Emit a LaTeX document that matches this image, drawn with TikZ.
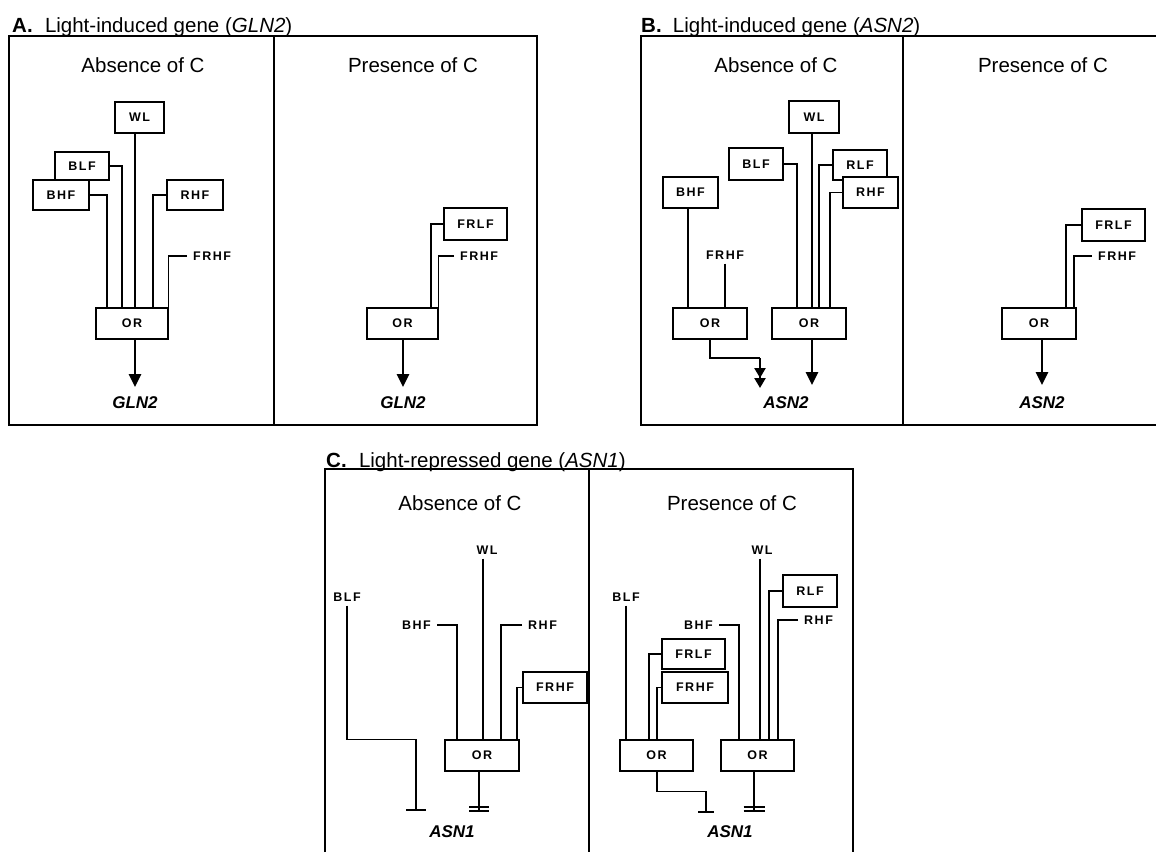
\documentclass[tikz,border=0pt]{standalone}
\usepackage{fontspec}
\setmainfont{Liberation Sans}
\newfontfamily\labfont[LetterSpace=12]{Liberation Sans}
\usetikzlibrary{arrows.meta}
\begin{document}
\begin{tikzpicture}[x=1pt,y=-1pt,
  ttl/.style={font=\fontsize{20.5}{24}\selectfont, inner sep=0pt, anchor=base west},
  hdr/.style={font=\fontsize{20.5}{24}\selectfont, inner sep=0pt, anchor=base},
  fbox/.style={draw, line width=1.3pt, fill=white, inner sep=0pt, font=\labfont\bfseries\fontsize{12.5}{14}\selectfont},
  lbl/.style={inner xsep=6pt, inner ysep=4pt, font=\labfont\bfseries\fontsize{12.5}{14}\selectfont},
  gene/.style={font=\bfseries\itshape\fontsize{17}{20}\selectfont, inner sep=0pt, anchor=base},
  panel/.style={line width=1.3pt},
  conn/.style={line width=1.2pt},
  arr/.style={line width=2.6pt, -{Triangle[width=12pt,length=13pt]}},
]
\useasboundingbox (0,0) rectangle (1156,852);
% panel frames
\draw[panel] (9,36) rectangle (537,425);
\draw[panel] (274,36) -- (274,425);
\draw[panel] (1156,36) -- (641,36) -- (641,425) -- (1156,425);
\draw[panel] (903,36) -- (903,425);
\draw[panel] (325,852) -- (325,469) -- (853,469) -- (853,852);
\draw[panel] (589,469) -- (589,852);
% titles
\node[ttl] (tA) at (12,32) {\textbf{A.}\hspace{0.6em}Light-induced gene (\textit{GLN2})};
\node[ttl] (tB) at (641,32) {\textbf{B.}\hspace{0.55em}Light-induced gene (\textit{ASN2})};
\node[ttl] (tC) at (326,467) {\textbf{C.}\hspace{0.6em}Light-repressed gene (\textit{ASN1})};
\node[hdr] (hA1) at (143,72) {Absence of C};
\node[hdr] (hA2) at (413,72) {Presence of C};
\node[hdr] (hB1) at (776,72) {Absence of C};
\node[hdr] (hB2) at (1043,72) {Presence of C};
\node[hdr] (hC1) at (460,510) {Absence of C};
\node[hdr] (hC2) at (732,510) {Presence of C};

% ---------- Panel A, absence
\node[fbox, minimum width=49pt, minimum height=31pt] (aWL) at (139.5,117.5) {WL};
\node[fbox, minimum width=54pt, minimum height=28pt] (aBLF) at (82,166) {BLF};
\node[fbox, minimum width=56pt, minimum height=30pt] (aBHF) at (61,195) {BHF};
\node[fbox, minimum width=56pt, minimum height=30pt] (aRHF) at (195,195) {RHF};
\node[lbl, anchor=west] (aFRHF) at (187,256) {FRHF};
\node[fbox, minimum width=72pt, minimum height=31pt] (aOR) at (132,323.5) {OR};
\coordinate (aI1) at (107,308);
\coordinate (aI2) at (122,308);
\coordinate (aI3) at (135,308);
\coordinate (aI4) at (153,308);
\coordinate (aT) at (135,387);
\draw[conn] (aBHF.east) -| (aI1);
\draw[conn] (aBLF.east) -| (aI2);
\draw[conn] (aWL.south -| aI3) -- (aI3);
\draw[conn] (aRHF.west) -| (aI4);
\draw[conn] (aFRHF.west) -| (aOR.north east);
\draw[arr] (aOR.south -| aT) -- (aT);
\node[gene] (aG1) at (135,408) {GLN2};

% ---------- Panel A, presence
\node[fbox, minimum width=71pt, minimum height=31pt] (aOR2) at (402.5,323.5) {OR};
\node[fbox, minimum width=63pt, minimum height=32pt] (aFRLF) at (475.5,224) {FRLF};
\node[lbl, anchor=west] (aFRHF2) at (454,256) {FRHF};
\coordinate (aJ1) at (431,308);
\coordinate (aT2) at (403,387);
\draw[conn] (aFRLF.west) -| (aJ1);
\draw[conn] (aFRHF2.west) -| (aOR2.north east);
\draw[arr] (aOR2.south -| aT2) -- (aT2);
\node[gene] (aG2) at (403,408) {GLN2};

% ---------- Panel B, absence
\node[fbox, minimum width=50pt, minimum height=32pt] (bWL) at (814,117) {WL};
\node[fbox, minimum width=54pt, minimum height=32pt] (bBLF) at (756,164) {BLF};
\node[fbox, minimum width=54pt, minimum height=30pt] (bRLF) at (860,165) {RLF};
\node[fbox, minimum width=55pt, minimum height=31pt] (bRHF) at (870.5,192.5) {RHF};
\node[fbox, minimum width=55pt, minimum height=31pt] (bBHF) at (690.5,192.5) {BHF};
\node[lbl] (bFRHF) at (725,255) {FRHF};
\node[fbox, minimum width=74pt, minimum height=31pt] (bOR1) at (710,323.5) {OR};
\node[fbox, minimum width=74pt, minimum height=31pt] (bOR2) at (809,323.5) {OR};
\coordinate (bI1) at (688,308);
\coordinate (bI2) at (725,308);
\coordinate (bJ1) at (797,308);
\coordinate (bJ2) at (812,308);
\coordinate (bJ3) at (819,308);
\coordinate (bJ4) at (830,308);
\coordinate (bK) at (760,358);
\coordinate (bT1) at (760,388);
\coordinate (bT2) at (812,385);
\draw[conn] (bBHF.south -| bI1) -- (bI1);
\draw[conn] (bFRHF.south) -- (bI2);
\draw[conn] (bBLF.east) -| (bJ1);
\draw[conn] (bWL.south -| bJ2) -- (bJ2);
\draw[conn] (bRLF.west) -| (bJ3);
\draw[conn] (bRHF.west) -| (bJ4);
\draw[conn] (bOR1.south) |- (bK);
\draw[line width=2.4pt, -{Triangle[width=11pt,length=10pt]Triangle[width=11pt,length=10pt]}] (bK) -- (bT1);
\draw[arr] (bOR2.south -| bT2) -- (bT2);
\node[gene] (bG1) at (786,408) {ASN2};

% ---------- Panel B, presence
\node[fbox, minimum width=74pt, minimum height=31pt] (bOR3) at (1039,323.5) {OR};
\node[fbox, minimum width=63pt, minimum height=32pt] (bFRLF) at (1113.5,225) {FRLF};
\node[lbl, anchor=west] (bFRHF2) at (1092,256) {FRHF};
\coordinate (bL1) at (1066,308);
\coordinate (bL2) at (1074,308);
\coordinate (bT3) at (1042,385);
\draw[conn] (bFRLF.west) -| (bL1);
\draw[conn] (bFRHF2.west) -| (bL2);
\draw[arr] (bOR3.south -| bT3) -- (bT3);
\node[gene] (bG2) at (1042,408) {ASN2};

% ---------- Panel C, absence
\node[lbl] (cWL) at (487,550) {WL};
\node[lbl] (cBLF) at (347,597) {BLF};
\node[lbl, anchor=east] (cBHF) at (437,625) {BHF};
\node[lbl, anchor=west] (cRHF) at (522,625) {RHF};
\node[fbox, minimum width=64pt, minimum height=31pt] (cFRHF) at (555,687.5) {FRHF};
\node[fbox, minimum width=74pt, minimum height=31pt] (cOR) at (482,755.5) {OR};
\coordinate (cI1) at (457,740);
\coordinate (cI2) at (483,740);
\coordinate (cI3) at (501,740);
\coordinate (cI4) at (517,740);
\coordinate (cBar1) at (416,810);
\coordinate (cBar2) at (479,811);
\draw[conn] (cBLF.south) |- (cBar1 |- cOR.north) -- (cBar1);
\draw[conn] ([xshift=-10pt]cBar1) -- ([xshift=10pt]cBar1);
\draw[conn] (cBHF.east) -| (cI1);
\draw[conn] (cWL.south -| cI2) -- (cI2);
\draw[conn] (cRHF.west) -| (cI3);
\draw[conn] (cFRHF.west) -| (cI4);
\draw[conn] (cOR.south -| cBar2) -- (cBar2);
\draw[conn] ([xshift=-10pt,yshift=4pt]cBar2) -- ([xshift=10pt,yshift=4pt]cBar2);
\draw[conn] ([xshift=-10pt]cBar2) -- ([xshift=10pt]cBar2);
\node[gene] (cG1) at (452,837) {ASN1};

% ---------- Panel C, presence
\node[lbl] (cWL2) at (762,550) {WL};
\node[fbox, minimum width=54pt, minimum height=32pt] (cRLF) at (810,591) {RLF};
\node[lbl, anchor=west] (cRHF2) at (798,620) {RHF};
\node[lbl, anchor=east] (cBHF2) at (719,625) {BHF};
\node[lbl] (cBLF2) at (626,597) {BLF};
\node[fbox, minimum width=63pt, minimum height=30pt] (cFRLF) at (693.5,654) {FRLF};
\node[fbox, minimum width=66pt, minimum height=31pt] (cFRHF2) at (695,687.5) {FRHF};
\node[fbox, minimum width=73pt, minimum height=31pt] (cOR2) at (656.5,755.5) {OR};
\node[fbox, minimum width=73pt, minimum height=31pt] (cOR3) at (757.5,755.5) {OR};
\coordinate (cJ1) at (626,740);
\coordinate (cJ2) at (649,740);
\coordinate (cJ3) at (657,740);
\coordinate (cK1) at (739,740);
\coordinate (cK2) at (760,740);
\coordinate (cK3) at (769,740);
\coordinate (cK4) at (778,740);
\coordinate (cBar3) at (706,812);
\coordinate (cBar4) at (754,811);
\draw[conn] (cBLF2.south -| cJ1) -- (cJ1);
\draw[conn] (cFRLF.west) -| (cJ2);
\draw[conn] (cFRHF2.west) -| (cJ3);
\draw[conn] (cBHF2.east) -| (cK1);
\draw[conn] (cWL2.south -| cK2) -- (cK2);
\draw[conn] (cRLF.west) -| (cK3);
\draw[conn] (cRHF2.west) -| (cK4);
\draw[conn] (cOR2.south -| cJ3) -- ++(0,20) -| (cBar3);
\draw[conn] ([xshift=-8pt]cBar3) -- ([xshift=8pt]cBar3);
\draw[conn] (cOR3.south -| cBar4) -- (cBar4);
\draw[conn] ([xshift=-10.5pt,yshift=4pt]cBar4) -- ([xshift=10.5pt,yshift=4pt]cBar4);
\draw[conn] ([xshift=-10.5pt]cBar4) -- ([xshift=10.5pt]cBar4);
\node[gene] (cG2) at (730,837) {ASN1};
\end{tikzpicture}
\end{document}
